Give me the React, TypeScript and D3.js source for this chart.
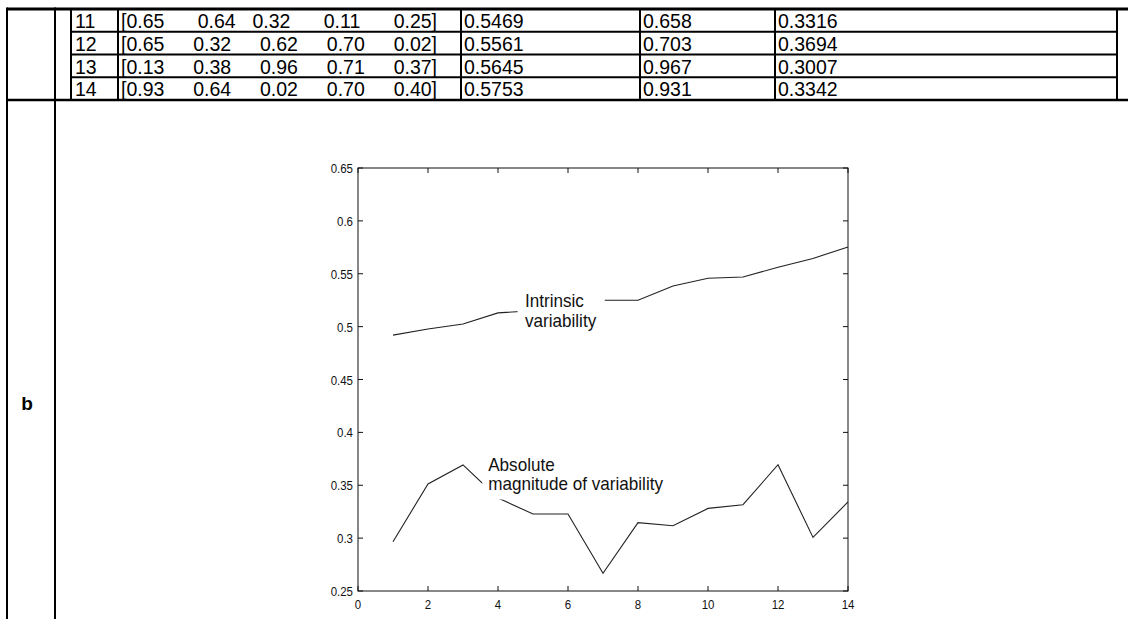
import React, { useMemo } from "react";
import * as d3 from "d3";

// ---------- table data ----------
const rowIds = ["11", "12", "13", "14"];
const vectors = [
  "[0.65  0.64 0.32  0.11  0.25]",
  "[0.65  0.32  0.62  0.70  0.02]",
  "[0.13  0.38  0.96  0.71  0.37]",
  "[0.93  0.64  0.02  0.70  0.40]",
];
const colA = ["0.5469", "0.5561", "0.5645", "0.5753"];
const colB = ["0.658", "0.703", "0.967", "0.931"];
const colC = ["0.3316", "0.3694", "0.3007", "0.3342"];
const panelLabel = "b";

// ---------- chart data ----------
const runs = [1, 2, 3, 4, 5, 6, 7, 8, 9, 10, 11, 12, 13, 14];
const intrinsic = [0.492, 0.4977, 0.5025, 0.513, 0.515, 0.52, 0.525, 0.525, 0.5384, 0.5457, 0.5469, 0.5561, 0.5645, 0.5753];
const absolute = [0.2966, 0.3512, 0.3692, 0.338, 0.3228, 0.3228, 0.2667, 0.3146, 0.3117, 0.3281, 0.3316, 0.3694, 0.3007, 0.3342];
const xTicks = [0, 2, 4, 6, 8, 10, 12, 14];
const yTicks = [0.25, 0.3, 0.35, 0.4, 0.45, 0.5, 0.55, 0.6, 0.65];
const yTickLabels = ["0.25", "0.3", "0.35", "0.4", "0.45", "0.5", "0.55", "0.6", "0.65"];
const labelIntrinsic = ["Intrinsic", "variability"];
const labelAbsolute = ["Absolute", "magnitude of variability"];

const W = 1134;
const H = 619;
const FONT = "'Liberation Sans', Arial, Helvetica, sans-serif";

function measure(txt: string, size: number) {
  const c = document.createElement("canvas").getContext("2d")!;
  c.font = `${size}px 'Liberation Sans', Arial, sans-serif`;
  return c.measureText(txt).width;
}

export default function App() {
  // table geometry
  const left = 7, col1 = 55;
  const cols = [71, 118, 461, 640, 775, 1117];
  const top = 9, rowH = 22.75;
  const tBottom = top + rowH * 4;
  const fs = 19.5;

  const x = d3.scaleLinear().domain([0, 14]).range([358, 848]);
  const y = d3.scaleLinear().domain([0.25, 0.65]).range([591, 168]);
  const line = d3
    .line<number>()
    .x((_, i) => x(runs[i]))
    .y((d) => y(d));

  const vecTokens = useMemo(() => {
    const x0 = cols[1] + 3;
    const x1 = 437;
    return vectors.map((v) => {
      const parts = v.split(/( +)/).filter((p) => p.length);
      const toks = parts.filter((p) => p.trim().length);
      const nSpaces = parts.filter((p) => !p.trim().length).reduce((a, p) => a + p.length, 0);
      const tw = toks.reduce((a, t) => a + measure(t, fs), 0);
      const sp = (x1 - x0 - tw) / nSpaces;
      let cx = x0;
      const out: { t: string; x: number }[] = [];
      parts.forEach((p) => {
        if (p.trim().length) {
          out.push({ t: p, x: cx });
          cx += measure(p, fs);
        } else cx += sp * p.length;
      });
      return out;
    });
  }, []);

  const tickLen = 5;
  const [xl, xr] = x.range();
  const [yb, yt] = y.range();

  return (
    <svg
      width={W}
      height={H}
      style={{ position: "absolute", left: 0, top: 0, background: "#fff" }}
      fontFamily={FONT}
    >
      <rect width={W} height={H} fill="#fff" />
      {/* ---------- table ---------- */}
      <g stroke="#000" fill="none">
        <line x1={left} x2={1128} y1={top} y2={top} strokeWidth={3} />
        <line x1={left} x2={1128} y1={tBottom} y2={tBottom} strokeWidth={2.5} />
        <line x1={left} x2={left} y1={top - 1.5} y2={H} strokeWidth={2} />
        <line x1={col1} x2={col1} y1={top - 1.5} y2={H} strokeWidth={2} />
        {cols.map((c, i) => (
          <line key={i} x1={c} x2={c} y1={top} y2={tBottom} strokeWidth={2} />
        ))}
        {[1, 2, 3].map((r) => (
          <line key={r} x1={cols[0]} x2={cols[5]} y1={top + rowH * r} y2={top + rowH * r} strokeWidth={2} />
        ))}
      </g>
      <g fontSize={fs} fill="#000">
        {rowIds.map((id, r) => {
          const by = top + rowH * r + 19;
          return (
            <g key={id}>
              <text x={cols[0] + 4} y={by}>{id}</text>
              {vecTokens[r].map((tk, k) => (
                <text key={k} x={tk.x} y={by}>{tk.t}</text>
              ))}
              <text x={cols[2] + 3} y={by}>{colA[r]}</text>
              <text x={cols[3] + 3} y={by}>{colB[r]}</text>
              <text x={cols[4] + 3} y={by}>{colC[r]}</text>
            </g>
          );
        })}
      </g>
      <text x={27} y={410} fontSize={19} fontWeight="bold" textAnchor="middle">
        {panelLabel}
      </text>

      {/* ---------- chart ---------- */}
      <g>
        <path d={line(intrinsic) || ""} fill="none" stroke="#222" strokeWidth={1.1} />
        <path d={line(absolute) || ""} fill="none" stroke="#222" strokeWidth={1.1} />
      </g>
      {/* label backgrounds & labels */}
      <rect x={x(4.56)} y={289} width={x(7.05) - x(4.56)} height={45} fill="#fff" />
      <rect x={x(3.55)} y={453} width={190} height={46.5} fill="#fff" />
      <g fontSize={18} fill="#111">
        {labelIntrinsic.map((t, i) => (
          <text key={t} transform={`translate(${x(4.77)},${307 + i * 20}) scale(0.95,1)`}>{t}</text>
        ))}
        {labelAbsolute.map((t, i) => (
          <text key={t} transform={`translate(${x(3.72)},${471 + i * 19}) scale(0.95,1)`}>{t}</text>
        ))}
      </g>
      {/* axes box */}
      <rect x={xl} y={yt} width={xr - xl} height={yb - yt} fill="none" stroke="#111" strokeWidth={1} />
      <g stroke="#111" strokeWidth={1}>
        {xTicks.map((t) => (
          <g key={t}>
            <line x1={x(t)} x2={x(t)} y1={yb} y2={yb - tickLen} />
            <line x1={x(t)} x2={x(t)} y1={yt} y2={yt + tickLen} />
          </g>
        ))}
        {yTicks.map((t) => (
          <g key={t}>
            <line x1={xl} x2={xl + tickLen} y1={y(t)} y2={y(t)} />
            <line x1={xr} x2={xr - tickLen} y1={y(t)} y2={y(t)} />
          </g>
        ))}
      </g>
      <g fontSize={13.5} fill="#111">
        {xTicks.map((t) => (
          <text key={t} transform={`translate(${x(t)},${yb + 18}) scale(0.85,1)`} textAnchor="middle">
            {t}
          </text>
        ))}
        {yTicks.map((t, i) => (
          <text key={t} transform={`translate(${xl - 5},${y(t) + 5}) scale(0.85,1)`} textAnchor="end">
            {yTickLabels[i]}
          </text>
        ))}
      </g>
    </svg>
  );
}
